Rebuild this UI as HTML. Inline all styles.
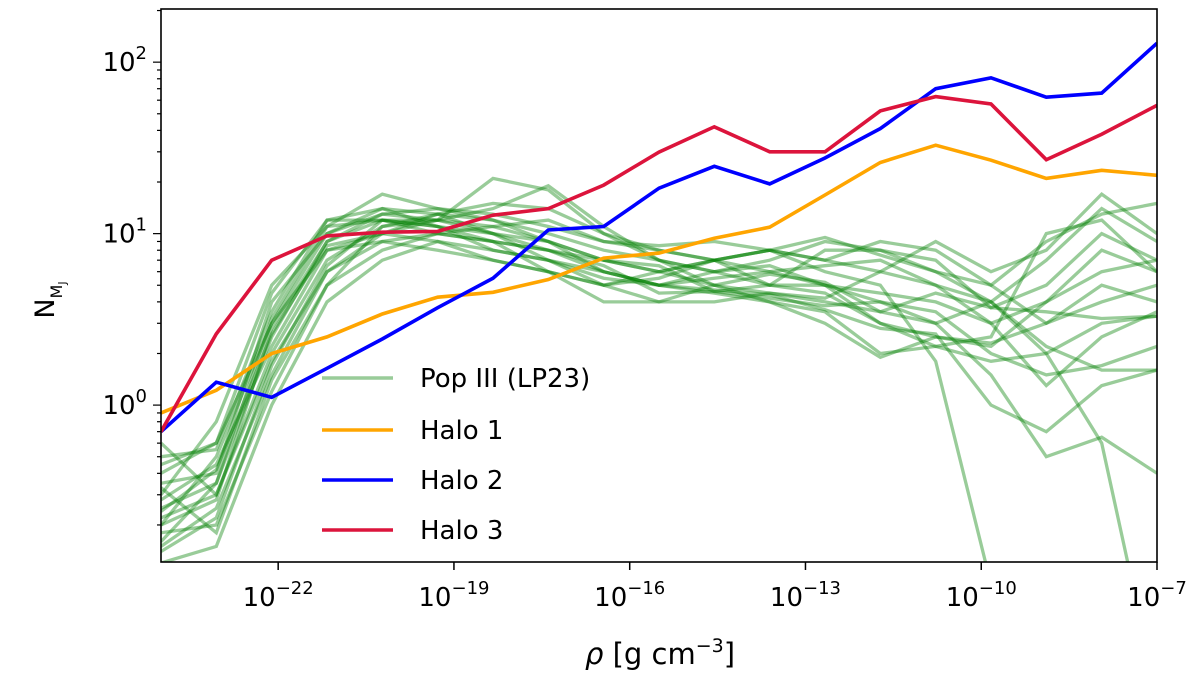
<!DOCTYPE html>
<html><head><meta charset="utf-8"><style>
body{margin:0;background:#fff;}
svg{display:block;font-family:"DejaVu Sans","Liberation Sans",sans-serif;}
</style></head><body>
<svg id="chart" width="1200" height="681" xmlns="http://www.w3.org/2000/svg">
<g id="green"></g>
<g id="halos"></g>
<rect x="161" y="9" width="996" height="553" fill="none" stroke="#000" stroke-width="1.6"/>
<g id="axes"></g>
<text x="0" y="0" transform="translate(54,300) rotate(-90)" font-size="27" text-anchor="middle">N<tspan font-size="16" dy="8">M</tspan><tspan font-size="11" dy="4">J</tspan></text>
<text x="660" y="664" font-size="29" text-anchor="middle"><tspan font-style="italic">ρ</tspan> [g cm<tspan font-size="19" dy="-12">−3</tspan><tspan dy="12">]</tspan></text>
<g>
<line x1="322" y1="378" x2="393" y2="378" stroke="#008000" stroke-opacity="0.4" stroke-width="3.5"/>
<text x="420" y="387" font-size="26">Pop III (LP23)</text>
<line x1="322" y1="430" x2="393" y2="430" stroke="#ffa500" stroke-width="3.5"/>
<text x="420" y="439" font-size="26">Halo 1</text>
<line x1="322" y1="480" x2="393" y2="480" stroke="#0000ff" stroke-width="3.5"/>
<text x="420" y="489" font-size="26">Halo 2</text>
<line x1="322" y1="530" x2="393" y2="530" stroke="#dc143c" stroke-width="3.5"/>
<text x="420" y="539" font-size="26">Halo 3</text>
</g>
</svg>
<script>
const logRhoStart = -24, logRhoEnd = -7, nPoints = 19;
const xTickExps = [-22, -19, -16, -13, -10, -7];
const yTickExps = [0, 1, 2];
const halo1 = [0.9,1.22,2.0,2.5,3.4,4.26,4.55,5.4,7.2,7.7,9.4,10.9,16.8,26,32.8,26.8,21,23.4,21.9];
const halo2 = [0.7,1.36,1.11,1.64,2.43,3.7,5.5,10.5,11,18.4,24.7,19.5,27.6,41,70,81,62.5,66,129];
const halo3 = [0.7,2.6,7.0,9.7,10.2,10.3,12.8,14,19.2,29.9,42,30,30,52,63,57,27,38,56];
const pop3 = [
[0.25,0.35,2.5,9,12,11,9,8,6,5,5.5,6,5,4.5,4,3,4,6,7],
[0.2,0.5,3,10,14,13,10,9,7,6,7,8,7,6,5,4,2.2,1.6,1.6],
[0.3,0.8,5,11,17,14,12,10,8,7,6,5,5,4,3.5,2,1.5,1.7,2.2],
[0.15,0.25,1.5,6,10,13,15,14,10,8,7,5,4.5,3,2.5,2.3,3,5,4],
[0.4,0.6,3,8,10,12,14,19,11,7,5,4.5,4,3.5,3,1.5,0.5,0.65,0.4],
[0.22,0.3,2,7,11,12,21,18,10,7,6,7,9,8,6,4,2,0.6,0.02],
[0.35,0.4,4,10,13,14,13,11,9,8,7,8,6,5,1.8,0.09,0.02,0.02,0.02],
[0.18,0.2,1.2,5,8,10,11,12,9,8.5,9,8,7,9,8,5,9,13,15],
[0.5,0.55,3.5,12,14,11,8,7,5,4,4,4.5,4.2,6,9,6,8,17,10],
[0.12,0.15,1,4,7,9,8,7,6,5,6,6.5,5,3,2.2,2.5,10,12,6],
[0.28,0.45,2.2,8,9,8,7,6,5,5.5,7,6,6.5,7,5,3,1.3,2.5,3.5],
[0.6,0.3,1.8,6,9,10,9,8,7,6,5,4,3.5,2,2.2,1.8,2,3,3.3],
[0.2,0.28,2.8,9,13,12,11,9,6,5,4.5,4,3,1.9,2.5,2.2,4,8,6],
[0.33,0.18,1.4,5,11,13,12,9,7,6.5,4.6,4.2,3.8,4,3,4,7,14,9],
[0.16,0.35,3.2,11,12,12,10,8,6.5,4.5,4.6,5,8,8,7,3.7,5,10,7],
[0.45,0.6,4.5,12,12,10,9,6,4,4,5,5.8,5.2,3.5,4.5,3.7,3.5,3.2,3.3],
[0.24,0.42,2.6,8.5,10,9,7,6,5,6,7,8,9.5,7.5,6,5,3,4,5],
[0.14,0.22,1.7,6.5,12,11,10,7,5.5,5,4.7,4.4,3.6,2.8,2.6,1,0.7,1.3,1.6]
];
const X0=161, X1=1157, Y0=562, Y1=9;
const yLogMin=-0.915, yLogMax=2.31;
function xScale(lx){return X0+(lx-logRhoStart)/(logRhoEnd-logRhoStart)*(X1-X0);}
function yScale(v){return Y0-(Math.log10(v)-yLogMin)/(yLogMax-yLogMin)*(Y0-Y1);}
function idxX(i){return xScale(logRhoStart+i*(logRhoEnd-logRhoStart)/(nPoints-1));}
const NS="http://www.w3.org/2000/svg";
function pathFor(arr){return arr.map((v,i)=>(i?'L':'M')+idxX(i).toFixed(1)+','+yScale(v).toFixed(1)).join(' ');}
const gGreen=document.getElementById('green');
const cp=document.createElementNS(NS,'clipPath');cp.setAttribute('id','clip');
const cr=document.createElementNS(NS,'rect');cr.setAttribute('x',X0);cr.setAttribute('y',Y1);cr.setAttribute('width',X1-X0);cr.setAttribute('height',Y0-Y1);
cp.appendChild(cr);document.getElementById('chart').appendChild(cp);
gGreen.setAttribute('clip-path','url(#clip)');
pop3.forEach((s,k)=>{
  const p=document.createElementNS(NS,'path');
  p.setAttribute('d',pathFor(s));p.setAttribute('fill','none');p.setAttribute('stroke','#008000');
  p.setAttribute('stroke-opacity','0.4');p.setAttribute('stroke-width','3.3');
  
  
  gGreen.appendChild(p);
});
const gH=document.getElementById('halos');gH.setAttribute('clip-path','url(#clip)');
[[halo1,'#ffa500','halo1-line'],[halo2,'#0000ff','halo2-line'],[halo3,'#dc143c','halo3-line']].forEach(h=>{
  const p=document.createElementNS(NS,'path');
  p.setAttribute('d',pathFor(h[0]));p.setAttribute('fill','none');p.setAttribute('stroke',h[1]);p.setAttribute('stroke-width','3.6');
  
  
  gH.appendChild(p);
});
const ax=document.getElementById('axes');
xTickExps.forEach(e=>{
  const x=xScale(e);
  const l=document.createElementNS(NS,'line');
  l.setAttribute('x1',x);l.setAttribute('x2',x);l.setAttribute('y1',Y0);l.setAttribute('y2',Y0+8);l.setAttribute('stroke','#000');l.setAttribute('stroke-width','1.5');
  
  
  ax.appendChild(l);
  const t=document.createElementNS(NS,'text');
  t.setAttribute('x',x);t.setAttribute('y',Y0+44);t.setAttribute('font-size','26');t.setAttribute('text-anchor','middle');
  t.innerHTML='10<tspan font-size="18" dy="-12">\u2212'+(-e)+'</tspan>';
  
  
  ax.appendChild(t);
});
for(let d=-1;d<=2;d++){for(let m=1;m<=9;m++){
  const v=m*Math.pow(10,d);const y=yScale(v);if(y<Y1||y>Y0)continue;
  const l=document.createElementNS(NS,'line');
  l.setAttribute('x1',X0);l.setAttribute('x2',X0-(m===1?8:4));l.setAttribute('y1',y);l.setAttribute('y2',y);l.setAttribute('stroke','#000');l.setAttribute('stroke-width','1.2');
  
  
  ax.appendChild(l);
}}
yTickExps.forEach(e=>{
  const y=yScale(Math.pow(10,e));
  const t=document.createElementNS(NS,'text');
  t.setAttribute('x',X0-14);t.setAttribute('y',y+9);t.setAttribute('font-size','26');t.setAttribute('text-anchor','end');
  t.innerHTML='10<tspan font-size="18" dy="-12">'+e+'</tspan>';
  
  
  ax.appendChild(t);
});
</script>
</body></html>
